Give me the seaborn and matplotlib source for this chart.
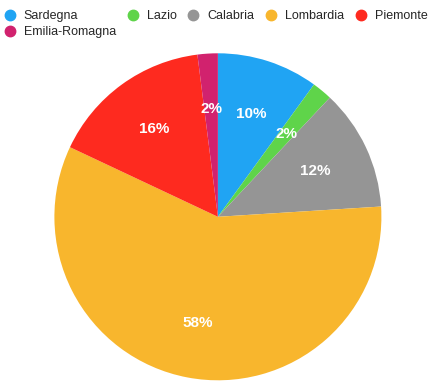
import matplotlib
matplotlib.use("Agg")
import matplotlib.pyplot as plt
from matplotlib.lines import Line2D
import seaborn as sns

sns.set_theme(style="white")
plt.rcParams['font.family'] = ['Liberation Sans', 'DejaVu Sans']

categories = ["Sardegna", "Lazio", "Calabria", "Lombardia", "Piemonte", "Emilia-Romagna"]
values = [10, 2, 12, 58, 16, 2]
colors = ["#20a4f3", "#5fd44a", "#959595", "#f8b62d", "#fe2a1f", "#d1226e"]

fig = plt.figure(figsize=(4.36, 3.87), dpi=100)
ax = fig.add_axes([54.4/436, 6.7/387, 327/436, 327/387])
ax.pie(values, colors=colors, startangle=90, counterclock=False,
       autopct=lambda p: f"{p:.0f}%", pctdistance=0.66, radius=1,
       wedgeprops=dict(linewidth=0),
       textprops=dict(color="white", fontsize=11, fontweight="bold"))
ax.set_xlim(-1, 1)
ax.set_ylim(-1, 1)
ax.set_aspect("equal")
ax.axis("off")

order = [0, 5, 1, 2, 3, 4]
handles = [Line2D([0], [0], marker="o", linestyle="", markersize=7.5,
                  markerfacecolor=colors[i], markeredgecolor=colors[i]) for i in order]
labels = [categories[i] for i in order]
fs = 9
fig.legend(handles, labels, ncol=5, loc="upper left",
           bbox_to_anchor=(5/436, 1 - 10/387), borderaxespad=0, borderpad=0,
           frameon=False, fontsize=fs, handletextpad=0.7, columnspacing=0.95,
           labelspacing=0.35, handlelength=0.8)

fig.savefig("out.png", dpi=100)
